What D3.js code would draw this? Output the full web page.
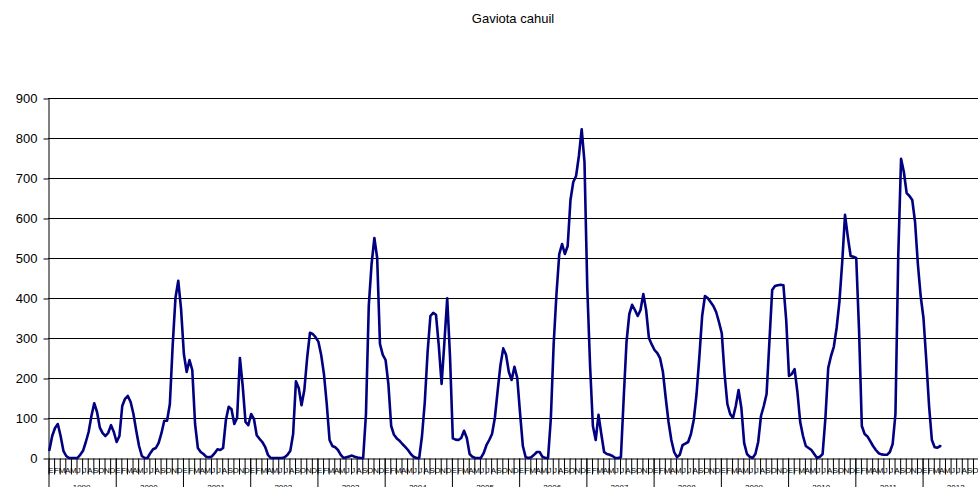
<!DOCTYPE html>
<html>
<head>
<meta charset="utf-8">
<script src="https://cdnjs.cloudflare.com/ajax/libs/d3/7.8.5/d3.min.js"></script>
<style>
  body { margin: 0; background: #fff; }
  svg { display: block; font-family: "Liberation Sans", Arial, sans-serif; }
</style>
</head>
<body>
<div id="chart"></div>
<script>
// counts, two readings per month (1st and 2nd half)
var years = ["1999","2000","2001","2002","2003","2004","2005","2006","2007","2008","2009","2010","2011","2012"];
var months = ["E","F","M","A","M","J","J","A","S","O","N","D"];
var yTicks = [0,100,200,300,400,500,600,700,800,900];

var c1999 = [20,55,75,85,55,18,5,0,0,0,0,8,18,40,65,105,137,115,76,62,55,63,82,65];
var c2000 = [40,55,130,148,155,140,110,68,30,5,0,0,12,22,25,38,62,93,93,135,281,400,443,372];
var c2001 = [260,215,245,220,85,25,15,10,3,2,4,12,22,20,25,95,128,122,85,100,250,180,90,82];
var c2002 = [110,98,57,48,40,28,8,0,0,0,0,0,2,8,18,60,192,175,132,170,250,313,310,302];
var c2003 = [291,258,210,135,45,30,27,20,8,0,2,4,6,3,1,0,0,110,380,485,550,500,285,258];
var c2004 = [245,185,80,58,49,43,35,28,20,10,3,0,0,55,140,265,355,363,358,280,185,290,399,253];
var c2005 = [49,46,45,50,68,50,10,3,0,0,0,12,32,45,60,100,168,232,274,258,215,195,228,200];
var c2006 = [112,30,2,0,2,8,15,15,3,0,0,100,285,410,510,535,510,530,645,690,705,755,822,740];
var c2007 = [425,230,80,45,108,60,15,10,8,5,0,0,2,150,290,360,383,370,355,370,410,370,300,284];
var c2008 = [270,262,249,215,150,90,45,15,2,8,32,36,40,60,95,160,253,355,405,400,390,380,365,340];
var c2009 = [312,210,135,110,100,130,170,125,37,10,3,0,10,40,105,130,160,290,420,430,432,433,432,345];
var c2010 = [205,210,222,165,90,55,30,25,20,10,0,3,10,100,225,255,278,325,391,490,608,553,505,503];
var c2011 = [500,320,80,60,54,42,30,20,12,9,8,8,15,35,110,505,748,715,662,655,645,590,485,405];
var c2012 = [350,245,130,45,27,26,30];

var series = [c1999,c2000,c2001,c2002,c2003,c2004,c2005,c2006,c2007,c2008,c2009,c2010,c2011,c2012];
var points = [];
series.forEach(function(arr, k) {
  arr.forEach(function(v, j) {
    points.push({ m: k * 12 + j * 0.5 + 0.25, v: v });
  });
});

var width = 978, height = 487;
var plotLeft = 48, plotBottom = 458, plotTop = 98;
var monthW = 5.603;

var svg = d3.select("#chart").append("svg")
  .attr("width", width)
  .attr("height", height);

var x = d3.scaleLinear().domain([0, 168]).range([plotLeft, plotLeft + 168 * monthW]);
var y = d3.scaleLinear().domain([0, 900]).range([plotBottom, plotTop]);

// title
svg.append("text")
  .attr("x", 513).attr("y", 23)
  .attr("text-anchor", "middle")
  .style("font-size", "13px")
  .text("Gaviota cahuil");

// gridlines
svg.append("g").selectAll("line")
  .data(yTicks.slice(1))
  .enter().append("line")
    .attr("x1", plotLeft).attr("x2", width)
    .attr("y1", function(d){ return Math.round(y(d)) + 0.5; })
    .attr("y2", function(d){ return Math.round(y(d)) + 0.5; })
    .attr("stroke", "#000")
    .attr("stroke-width", 1);

// y axis
var yAxis = svg.append("g")
  .attr("transform", "translate(" + (plotLeft + 0.5) + ",0.5)")
  .call(d3.axisLeft(y).tickValues(yTicks).tickSize(5).tickPadding(6).tickSizeOuter(0));
yAxis.select(".domain").attr("stroke", "#000");
yAxis.selectAll("text").style("font-size", "13px").attr("fill", "#000");

// x axis: month ticks
var monthBounds = d3.range(0, 169);
var xAxis = svg.append("g")
  .attr("transform", "translate(0.5," + (plotBottom + 0.5) + ")")
  .call(d3.axisBottom(x).tickValues(monthBounds).tickSize(16).tickFormat("").tickSizeOuter(0));
xAxis.select(".domain").attr("stroke", "#000");
xAxis.selectAll(".tick line").attr("stroke", "#000");

// year ticks (longer)
svg.append("g")
  .attr("transform", "translate(0.5," + (plotBottom + 0.5) + ")")
  .call(d3.axisBottom(x).tickValues(d3.range(0, 169, 12)).tickSize(40).tickFormat("").tickSizeOuter(0))
  .select(".domain").remove();

// month labels
var monthLabels = [];
years.forEach(function(yr, k) {
  months.forEach(function(mo, j) { monthLabels.push({ m: k * 12 + j + 0.5, t: mo }); });
});
svg.append("g").selectAll("text")
  .data(monthLabels)
  .enter().append("text")
    .attr("x", function(d){ return x(d.m); })
    .attr("y", 473)
    .attr("text-anchor", "middle")
    .style("font-size", "8px")
    .text(function(d){ return d.t; });

// year labels
svg.append("g").selectAll("text")
  .data(years)
  .enter().append("text")
    .attr("x", function(d, k){ return x(k * 12 + 6); })
    .attr("y", 490)
    .attr("text-anchor", "middle")
    .style("font-size", "8px")
    .text(function(d){ return d; });

// series line
var line = d3.line()
  .x(function(d){ return x(d.m); })
  .y(function(d){ return y(d.v); });

svg.append("path")
  .datum(points)
  .attr("d", line)
  .attr("fill", "none")
  .attr("stroke", "#000080")
  .attr("stroke-width", 2.6)
  .attr("stroke-linejoin", "round")
  .attr("stroke-linecap", "round");
</script>
</body>
</html>
